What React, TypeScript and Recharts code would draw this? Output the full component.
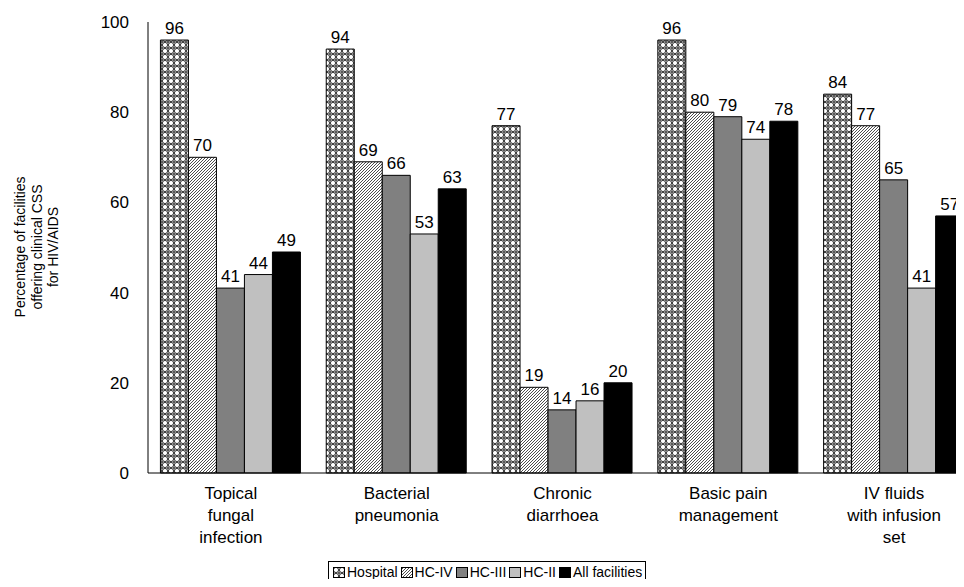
import { FC } from 'react'
import { Bar, BarChart, LabelList, XAxis, YAxis } from 'recharts'

const categories = [
	'Topical fungal infection',
	'Bacterial pneumonia',
	'Chronic diarrhoea',
	'Basic pain management',
	'IV fluids with infusion set',
]

// how each category label wraps under the axis
const categoryLines = [
	['Topical', 'fungal', 'infection'],
	['Bacterial', 'pneumonia'],
	['Chronic', 'diarrhoea'],
	['Basic pain', 'management'],
	['IV fluids', 'with infusion', 'set'],
]

const hospital = [96, 94, 77, 96, 84]
const hcIV = [70, 69, 19, 80, 77]
const hcIII = [41, 66, 14, 79, 65]
const hcII = [44, 53, 16, 74, 41]
const allFacilities = [49, 63, 20, 78, 57]

const yTicks = [0, 20, 40, 60, 80, 100]

const series = [
	{ key: 'hospital', name: 'Hospital', values: hospital, fill: 'url(#pat-hospital)' },
	{ key: 'hcIV', name: 'HC-IV', values: hcIV, fill: 'url(#pat-hciv)' },
	{ key: 'hcIII', name: 'HC-III', values: hcIII, fill: '#808080' },
	{ key: 'hcII', name: 'HC-II', values: hcII, fill: '#c0c0c0' },
	{ key: 'all', name: 'All facilities', values: allFacilities, fill: '#000000' },
]

const data = categories.map((name, i) => {
	const row: Record<string, string | number> = { name }
	series.forEach((s) => {
		row[s.key] = s.values[i]
	})
	return row
})

const FONT = 'Arial, "Liberation Sans", Helvetica, sans-serif'

const Patterns = () => (
	<svg width={0} height={0} style={{ position: 'absolute' }}>
		<defs>
			<pattern id="pat-hospital" width={6} height={6} patternUnits="userSpaceOnUse">
				<rect width={6} height={6} fill="#fff" />
				<circle cx={3} cy={3} r={2.6} fill="#fff" stroke="#000" strokeWidth={0.8} />
				<rect x={-0.8} y={-0.8} width={1.6} height={1.6} fill="#000" />
				<rect x={5.2} y={-0.8} width={1.6} height={1.6} fill="#000" />
				<rect x={-0.8} y={5.2} width={1.6} height={1.6} fill="#000" />
				<rect x={5.2} y={5.2} width={1.6} height={1.6} fill="#000" />
			</pattern>
			<pattern id="pat-hciv" width={3} height={3} patternUnits="userSpaceOnUse">
				<rect width={3} height={3} fill="#fff" />
				<path d="M-1,1 l2,-2 M0,3 l3,-3 M2,4 l2,-2" stroke="#000" strokeWidth={0.7} />
			</pattern>
		</defs>
	</svg>
)

const CategoryTick = (props: any) => {
	const { x, y, payload } = props
	const lines = categoryLines[payload.index] ?? [payload.value]
	return (
		<text x={x} y={y + 18} textAnchor="middle" fontSize={17} fill="#000" fontFamily={FONT}>
			{lines.map((l, i) => (
				<tspan key={i} x={x} dy={i === 0 ? 0 : 22}>
					{l}
				</tspan>
			))}
		</text>
	)
}

const YTitle = () => (
	<text
		transform="translate(37,247) rotate(-90)"
		textAnchor="middle"
		fontSize={14}
		fill="#000"
		fontFamily={FONT}
	>
		<tspan x={0} dy={-12}>
			Percentage of facilities
		</tspan>
		<tspan x={0} dy={16.5}>
			offering clinical CSS
		</tspan>
		<tspan x={0} dy={16.5}>
			for HIV/AIDS
		</tspan>
	</text>
)

const Legend = () => (
	<div
		style={{
			position: 'absolute',
			left: 328,
			top: 561,
			height: 40,
			border: '1px solid #000',
			boxSizing: 'border-box',
			display: 'flex',
			alignItems: 'flex-start',
			padding: '2px 3px 0 4px',
			gap: 3,
			fontFamily: FONT,
			fontSize: 14,
			lineHeight: '17px',
			whiteSpace: 'nowrap',
			background: '#fff',
		}}
	>
		{series.map((s) => (
			<span key={s.key} style={{ display: 'flex', alignItems: 'center' }}>
				<svg width={13} height={12} style={{ marginRight: 1 }}>
					<rect x={0.5} y={0.5} width={11} height={10} fill={s.fill} stroke="#000" />
				</svg>
				{s.name}
			</span>
		))}
	</div>
)

const App: FC = () => {
	return (
		<div
			style={{
				position: 'relative',
				margin: -8,
				width: 964,
				height: 587,
				overflow: 'hidden',
				background: '#fff',
			}}
		>
			<Patterns />
			<BarChart
				width={1000}
				height={587}
				data={data}
				margin={{ top: 22, right: 23, left: 0, bottom: 0 }}
				barCategoryGap="7.5%"
				barGap={0}
			>
				<XAxis
					dataKey="name"
					height={114}
					tickLine={false}
					axisLine={{ stroke: '#000', strokeWidth: 1 }}
					tick={<CategoryTick />}
					interval={0}
				/>
				<YAxis
					width={148}
					domain={[0, 100]}
					ticks={yTicks}
					tickLine={false}
					tickSize={6}
					tickMargin={13}
					axisLine={{ stroke: '#000', strokeWidth: 1 }}
					tick={{ fontSize: 17, fill: '#000', fontFamily: FONT }}
					label={<YTitle />}
				/>
				{series.map((s) => (
					<Bar
						key={s.key}
						dataKey={s.key}
						name={s.name}
						fill={s.fill}
						stroke="#000"
						strokeWidth={1}
						isAnimationActive={false}
					>
						<LabelList
							dataKey={s.key}
							position="top"
							offset={6}
							fill="#000"
							fontSize={17}
							fontFamily={FONT}
						/>
					</Bar>
				))}
			</BarChart>
			<Legend />
		</div>
	)
}

export default App
